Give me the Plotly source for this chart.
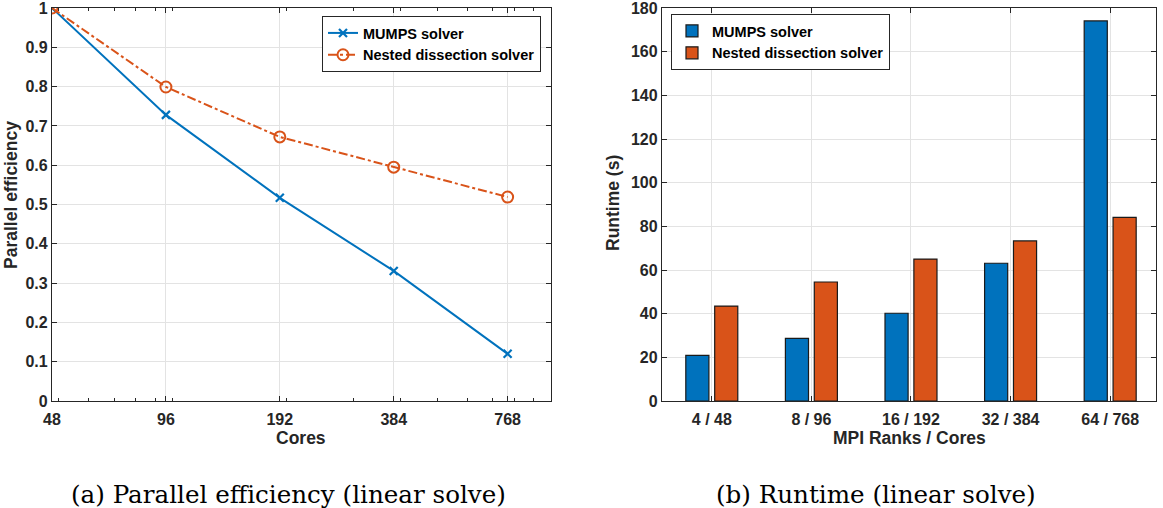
import math
import plotly.graph_objects as go

# Parallel efficiency of the linear solve vs. core count
cores = [48, 96, 192, 384, 768]
eff_mumps = [1.0, 0.728, 0.517, 0.331, 0.120]
eff_nested = [1.0, 0.799, 0.672, 0.595, 0.519]

# Runtime of the linear solve per MPI ranks / cores configuration
configs = ["4 / 48", "8 / 96", "16 / 192", "32 / 384", "64 / 768"]
rt_mumps = [20.9, 28.7, 40.2, 63.1, 174.1]
rt_nested = [43.5, 54.5, 65.0, 73.3, 84.1]

eff_ticks = [0, 0.1, 0.2, 0.3, 0.4, 0.5, 0.6, 0.7, 0.8, 0.9, 1]
eff_ticklabels = ["0", "0.1", "0.2", "0.3", "0.4", "0.5", "0.6", "0.7", "0.8", "0.9", "1"]
rt_ticks = [0, 20, 40, 60, 80, 100, 120, 140, 160, 180]
log_minor = [50, 60, 70, 80, 90, 100, 200, 300, 400, 500, 600, 700, 800, 900, 1000]

BLUE = "#0072BD"
ORANGE = "#D95319"
INK = "#262626"
GRID = "#e3e3e3"
FONT = "Liberation Sans"
W, H = 1163, 508

fig = go.Figure()

fig.add_trace(go.Scatter(
    x=cores, y=eff_mumps, name="<b>MUMPS solver</b>", mode="lines+markers",
    line=dict(color=BLUE, width=2),
    marker=dict(symbol="x-thin", size=8, line=dict(color=BLUE, width=2.2)),
    xaxis="x", yaxis="y", legend="legend",
))
fig.add_trace(go.Scatter(
    x=cores, y=eff_nested, name="<b>Nested dissection solver</b>", mode="lines+markers",
    line=dict(color=ORANGE, width=2, dash="dashdot"),
    marker=dict(symbol="circle-open", size=11, line=dict(color=ORANGE, width=2)),
    xaxis="x", yaxis="y", legend="legend",
))

fig.add_trace(go.Bar(
    x=configs, y=rt_mumps, name="<b>MUMPS solver</b>",
    marker=dict(color=BLUE, line=dict(color="#1a1a1a", width=1.2)),
    xaxis="x2", yaxis="y2", legend="legend2",
))
fig.add_trace(go.Bar(
    x=configs, y=rt_nested, name="<b>Nested dissection solver</b>",
    marker=dict(color=ORANGE, line=dict(color="#1a1a1a", width=1.2)),
    xaxis="x2", yaxis="y2", legend="legend2",
))

axis_common = dict(
    showline=True, linecolor=INK, linewidth=1.3, mirror="ticks",
    ticks="inside", ticklen=5, tickcolor=INK, tickwidth=1,
    showgrid=True, gridcolor=GRID, gridwidth=1, zeroline=False,
    automargin=False, ticklabeloverflow="allow",
    tickfont=dict(family=FONT, size=16, color=INK, weight="bold"),
)

Y_DOM = [1 - 401 / H, 1 - 8 / H]

fig.update_layout(
    width=W, height=H,
    margin=dict(l=0, r=0, t=0, b=0),
    paper_bgcolor="white", plot_bgcolor="white",
    font=dict(family=FONT, color=INK),
    bargap=0.42, bargroupgap=0.2,
    xaxis=dict(
        **axis_common, type="log", domain=[52 / W, 551 / W],
        range=[math.log10(48), math.log10(1000)],
        tickvals=cores, ticktext=[str(c) for c in cores],
        minor=dict(tickvals=log_minor, ticks="inside", ticklen=3, tickcolor=INK, showgrid=False),
        ticklabelstandoff=4, anchor="y",
    ),
    yaxis=dict(
        **axis_common, domain=Y_DOM, range=[0, 1],
        tickvals=eff_ticks, ticktext=eff_ticklabels, anchor="x",
    ),
    xaxis2=dict(
        **axis_common, domain=[662 / W, 1156 / W], range=[-0.5, 4.46],
        type="category", ticklabelstandoff=4, anchor="y2",
    ),
    yaxis2=dict(
        **axis_common, domain=Y_DOM, range=[0, 180],
        tickvals=rt_ticks, anchor="x2",
    ),
    legend=dict(
        x=541 / W, y=1 - 16 / H, xanchor="right", yanchor="top",
        bgcolor="white", bordercolor=INK, borderwidth=1,
        font=dict(family=FONT, size=14.5, color="black"),
        tracegroupgap=0, itemwidth=30,
    ),
    legend2=dict(
        x=671 / W, y=1 - 14 / H, xanchor="left", yanchor="top",
        bgcolor="white", bordercolor=INK, borderwidth=1,
        font=dict(family=FONT, size=14.5, color="black"),
        tracegroupgap=0, itemwidth=30,
    ),
    showlegend=True,
)

title_font = dict(family=FONT, size=17.5, color=INK, weight="bold")
caption_font = dict(family="DejaVu Serif", size=24.6, color="black")

annotations = [
    dict(text="Cores", x=301 / W, y=1 - 438 / H, font=title_font),
    dict(text="MPI Ranks / Cores", x=909 / W, y=1 - 438 / H, font=title_font),
    dict(text="Parallel efficiency", x=11 / W, y=1 - 195 / H, textangle=-90, font=title_font),
    dict(text="Runtime (s)", x=613 / W, y=1 - 203 / H, textangle=-90, font=title_font),
    dict(text="(a) Parallel efficiency (linear solve)", x=288 / W, y=1 - 494 / H, font=caption_font),
    dict(text="(b) Runtime (linear solve)", x=876 / W, y=1 - 494 / H, font=caption_font),
]
for a in annotations:
    fig.add_annotation(xref="paper", yref="paper", showarrow=False,
                       xanchor="center", yanchor="middle", **a)

fig.write_html("out.html")
